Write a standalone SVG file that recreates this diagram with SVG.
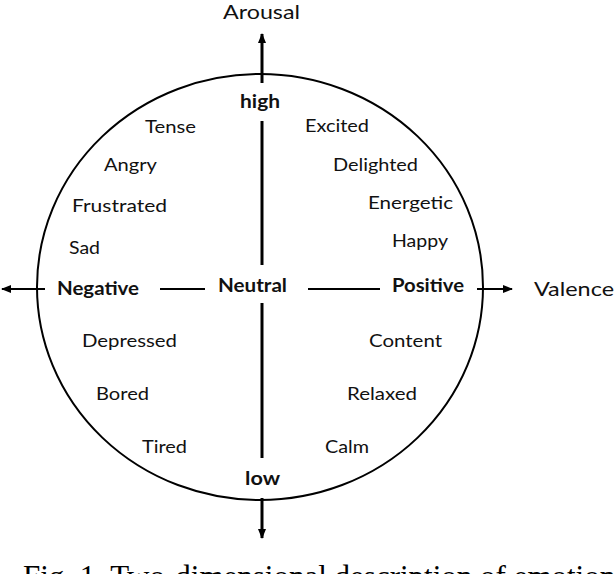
<svg xmlns="http://www.w3.org/2000/svg" width="616" height="574" viewBox="0 0 616 574">
<style>
.lbl{font-family:Lato,"Open Sans",sans-serif;font-size:18px;fill:#111}
.b{font-weight:bold}
.ax{stroke:#000;stroke-width:3;fill:none}
.axh{stroke:#000;stroke-width:2.2;fill:none}
.cap{font-family:"Liberation Serif",serif;font-size:31px;fill:#000}
</style>
<defs>
<marker id="ah" markerWidth="10" markerHeight="8" refX="9" refY="4" orient="auto" markerUnits="userSpaceOnUse">
<path d="M0,0 L10,4 L0,8 Z" fill="#000"/>
</marker>
</defs>
<g id="circle">
<ellipse cx="260" cy="287" rx="223" ry="213" fill="none" stroke="#000" stroke-width="2"/>
</g>
<g id="connectors">
<line class="ax" x1="262" y1="83" x2="262" y2="34" marker-end="url(#ah)"/>
<line class="ax" x1="262" y1="121" x2="262" y2="265"/>
<line class="ax" x1="262" y1="303" x2="262" y2="458"/>
<line class="ax" x1="262" y1="498" x2="262" y2="538" marker-end="url(#ah)"/>
<line class="axh" x1="45" y1="289" x2="2" y2="289" marker-end="url(#ah)"/>
<line class="axh" x1="160" y1="289" x2="205" y2="289"/>
<line class="axh" x1="308" y1="289" x2="380" y2="289"/>
<line class="axh" x1="477" y1="289" x2="512" y2="289" marker-end="url(#ah)"/>
</g>
<g id="arousal"><text class="lbl" x="223" y="19" textLength="77" lengthAdjust="spacingAndGlyphs" style="font-size:20px">Arousal</text></g>
<g id="valence"><text class="lbl" x="534" y="296" textLength="80" lengthAdjust="spacingAndGlyphs" style="font-size:20px">Valence</text></g>
<g id="high"><text class="lbl b" x="240" y="108" textLength="40" lengthAdjust="spacingAndGlyphs">high</text></g>
<g id="low"><text class="lbl b" x="245" y="485" textLength="35" lengthAdjust="spacingAndGlyphs">low</text></g>
<g id="neutral"><text class="lbl b" x="218" y="292" textLength="69" lengthAdjust="spacingAndGlyphs">Neutral</text></g>
<g id="negative"><text class="lbl b" x="57" y="295" textLength="82" lengthAdjust="spacingAndGlyphs">Negative</text></g>
<g id="positive"><text class="lbl b" x="392" y="292" textLength="72" lengthAdjust="spacingAndGlyphs">Positive</text></g>
<g id="tense"><text class="lbl" x="145" y="133" textLength="51" lengthAdjust="spacingAndGlyphs">Tense</text></g>
<g id="angry"><text class="lbl" x="104" y="171" textLength="53" lengthAdjust="spacingAndGlyphs">Angry</text></g>
<g id="frustrated"><text class="lbl" x="72" y="212" textLength="95" lengthAdjust="spacingAndGlyphs">Frustrated</text></g>
<g id="sad"><text class="lbl" x="69" y="254" textLength="31" lengthAdjust="spacingAndGlyphs">Sad</text></g>
<g id="excited"><text class="lbl" x="305" y="132" textLength="64" lengthAdjust="spacingAndGlyphs">Excited</text></g>
<g id="delighted"><text class="lbl" x="333" y="171" textLength="85" lengthAdjust="spacingAndGlyphs">Delighted</text></g>
<g id="energetic"><text class="lbl" x="368" y="209" textLength="85" lengthAdjust="spacingAndGlyphs">Energetic</text></g>
<g id="happy"><text class="lbl" x="392" y="247" textLength="56" lengthAdjust="spacingAndGlyphs">Happy</text></g>
<g id="depressed"><text class="lbl" x="82" y="347" textLength="95" lengthAdjust="spacingAndGlyphs">Depressed</text></g>
<g id="bored"><text class="lbl" x="96" y="400" textLength="53" lengthAdjust="spacingAndGlyphs">Bored</text></g>
<g id="tired"><text class="lbl" x="142" y="453" textLength="45" lengthAdjust="spacingAndGlyphs">Tired</text></g>
<g id="content"><text class="lbl" x="369" y="347" textLength="73" lengthAdjust="spacingAndGlyphs">Content</text></g>
<g id="relaxed"><text class="lbl" x="347" y="400" textLength="70" lengthAdjust="spacingAndGlyphs">Relaxed</text></g>
<g id="calm"><text class="lbl" x="325" y="453" textLength="44" lengthAdjust="spacingAndGlyphs">Calm</text></g>
<g id="caption"><text class="cap" x="23" y="587">Fig. 1. Two-dimensional description of emotions</text></g>
</svg>
